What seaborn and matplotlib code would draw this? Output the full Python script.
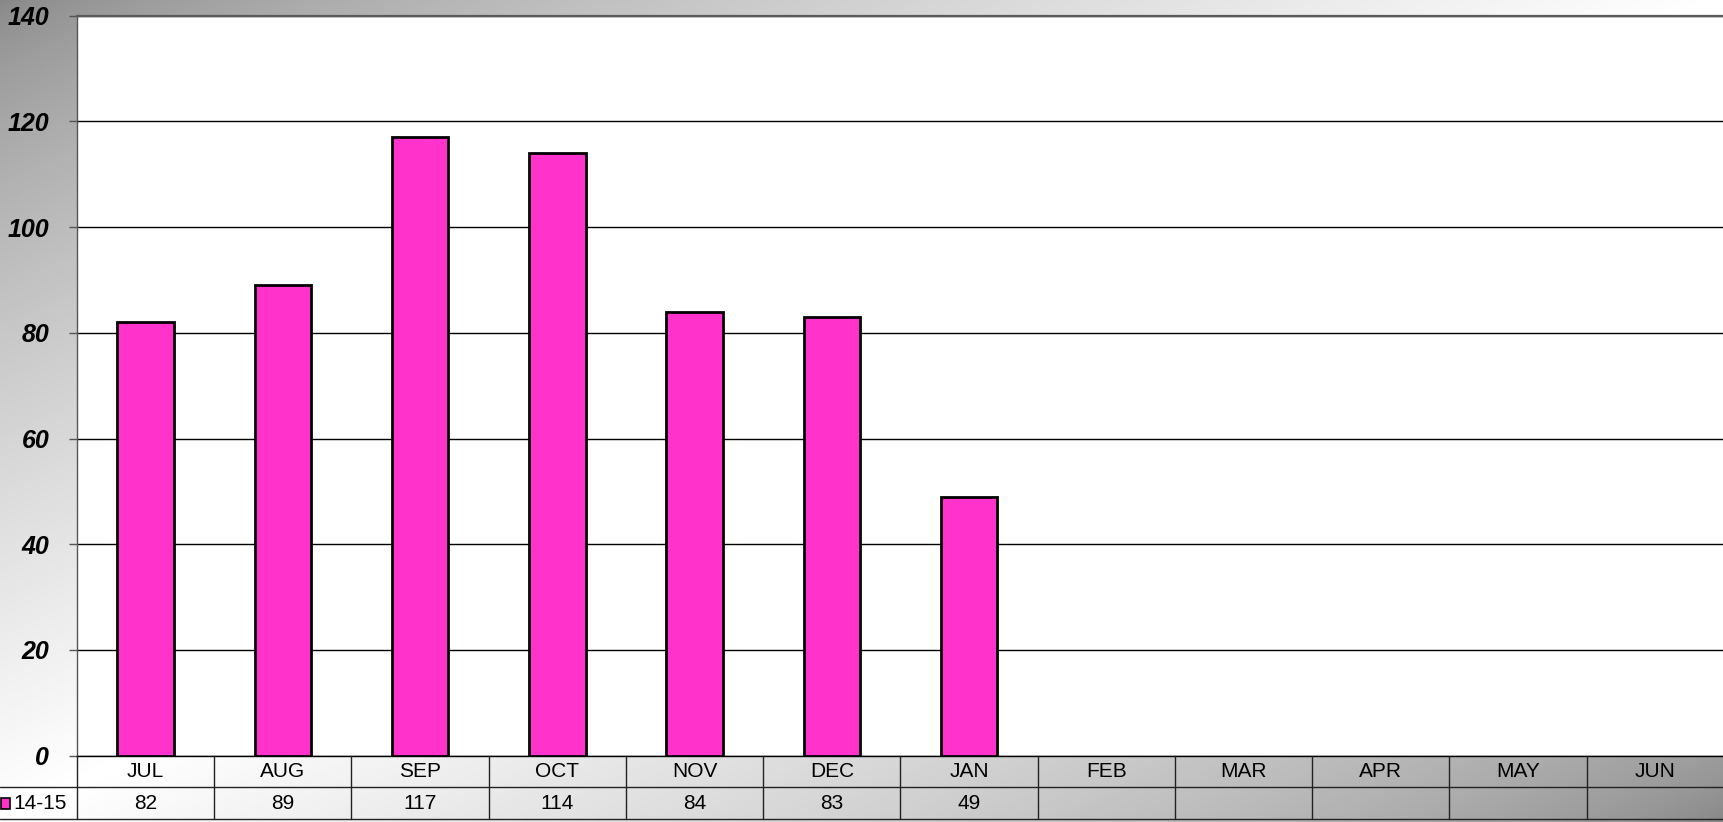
import numpy as np
import pandas as pd
import matplotlib
matplotlib.use("Agg")
import matplotlib.pyplot as plt
from matplotlib.lines import Line2D
from matplotlib.patches import Rectangle
import seaborn as sns

months = ["JUL", "AUG", "SEP", "OCT", "NOV", "DEC", "JAN", "FEB", "MAR", "APR", "MAY", "JUN"]
values = [82, 89, 117, 114, 84, 83, 49, np.nan, np.nan, np.nan, np.nan, np.nan]
series_name = "14-15"
y_ticks = [0, 20, 40, 60, 80, 100, 120, 140]

df = pd.DataFrame({"month": months, "value": values})

sns.set_theme(style="white")
plt.rcParams["font.family"] = ["Liberation Sans", "DejaVu Sans"]

W, H = 1724, 822
fig = plt.figure(figsize=(W / 100, H / 100), dpi=100)

# background gradient (diagonal, gray corners -> white middle)
bg = fig.add_axes([0, 0, 1, 1], zorder=-10)
xx, yy = np.meshgrid(np.linspace(0, 1, 600), np.linspace(0, 1, 300))
t = (xx + yy) / 2.0
d = 0.5 - np.abs(t - 0.5)
s = np.clip(d / 0.5, 0, 1) ** 0.7
g0 = 0x87 / 255.0
img = g0 + (1 - g0) * s
bg.imshow(img, cmap="gray", vmin=0, vmax=1, aspect="auto", extent=[0, 1, 0, 1], origin="upper")
bg.set_axis_off()

left = 77 / W
bottom = (H - 755.7) / H
top = (H - 15.7) / H
ax = fig.add_axes([left, bottom, 1 - left, top - bottom])
ax.set_facecolor("white")

sns.barplot(data=df, x="month", y="value", order=months, color="#FF33CC",
            width=0.41, edgecolor="black", linewidth=2, saturation=1, ax=ax, zorder=3)
ax.set_xlim(-0.5, len(months) - 0.5)
ax.set_ylim(0, 140)
ax.set_yticks(y_ticks)
ax.set_yticklabels([str(v) for v in y_ticks], fontsize=18, fontweight="bold", fontstyle="italic")
ax.set_xlabel("")
ax.set_ylabel("")
ax.set_xticks([])
ax.yaxis.grid(True, color="black", linewidth=1)
ax.set_axisbelow(True)
ax.tick_params(axis="y", which="both", left=True, length=6, width=1, color="#555555", pad=14, labelcolor="black")
ax.spines["right"].set_visible(False)
ax.spines["top"].set_color("#5a5a5a")
ax.spines["top"].set_linewidth(1.6)
ax.spines["left"].set_color("#555555")
ax.spines["left"].set_linewidth(1)
ax.spines["bottom"].set_color("black")
ax.spines["bottom"].set_linewidth(1)

# data table
tb_bottom = 3 / H
tax = fig.add_axes([left, tb_bottom, 1 - left, bottom - tb_bottom], sharex=ax)
tax.patch.set_alpha(0)
tax.set_ylim(0, 2)
tax.set_axis_off()
for i, m in enumerate(months):
    tax.text(i, 1.5, m, ha="center", va="center", fontsize=15, color="black")
    v = values[i]
    if not (isinstance(v, float) and np.isnan(v)):
        tax.text(i, 0.5, f"{int(v)}", ha="center", va="center", fontsize=15, color="black")
for k in range(len(months) + 1):
    tax.plot([k - 0.5, k - 0.5], [0, 2], color="#222222", lw=1, clip_on=False)
for yy_px in [787, 819]:
    fig.add_artist(Line2D([0, 1], [(H - yy_px) / H] * 2, color="#222222", lw=1))

# legend cell
fig.add_artist(Rectangle((1.5 / W, (H - 809) / H), 9 / W, 11 / H, facecolor="#FF33CC",
                         edgecolor="black", lw=1.2, transform=fig.transFigure))
fig.text(13 / W, (H - 803) / H, series_name, ha="left", va="center", fontsize=15, color="black")

fig.savefig("out.png", dpi=100)
